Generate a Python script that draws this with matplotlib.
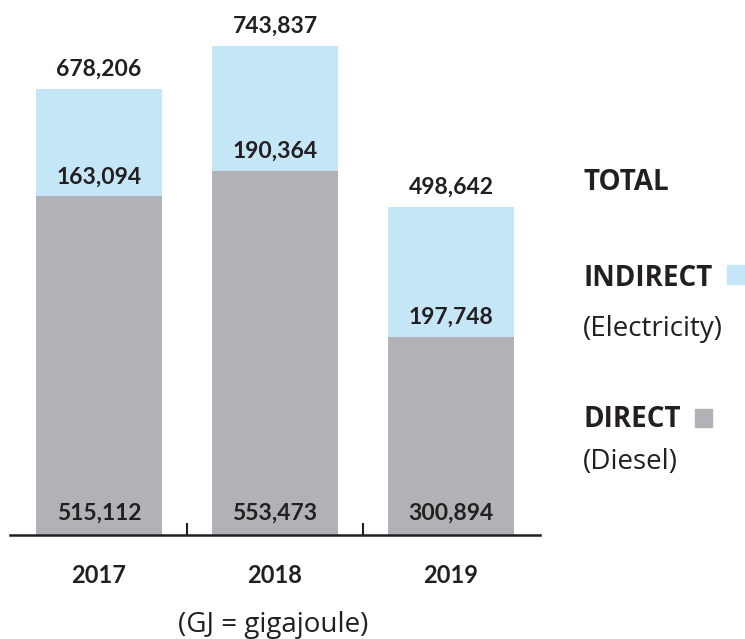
import matplotlib
matplotlib.use("Agg")
import matplotlib.pyplot as plt
from matplotlib.patches import Rectangle

years = ["2017", "2018", "2019"]
direct = [515112, 553473, 300894]
indirect = [163094, 190364, 197748]
totals = [678206, 743837, 498642]

grey = "#B1B2B6"
blue = "#C5E6F6"
ink = "#231F20"

fig = plt.figure(figsize=(7.45, 6.39), dpi=100)
ax = fig.add_axes([10 / 745, 104 / 639, 530 / 745, 535 / 639])

x = list(range(len(years)))
ax.bar(x, direct, width=0.72, color=grey)
ax.bar(x, indirect, bottom=direct, width=0.72, color=blue)

ax.set_xlim(-0.506, 2.506)
ax.set_ylim(0, 814000)
for s in ["top", "right", "left"]:
    ax.spines[s].set_visible(False)
ax.spines["bottom"].set_linewidth(1.8)
ax.spines["bottom"].set_color(ink)
ax.set_yticks([])
ax.set_xticks([0.5, 1.5])
ax.set_xticklabels([])
ax.tick_params(axis="x", direction="in", length=9, width=1.5, color=ink)

num_font = dict(family="Lato", fontweight="bold", fontsize=16.5, color=ink,
                ha="center", va="baseline")
for i in x:
    ax.text(i, totals[i] + 20000, f"{totals[i]:,}", **num_font)
    ax.text(i, direct[i] + 20000, f"{indirect[i]:,}", **num_font)
    ax.text(i, 23000, f"{direct[i]:,}", **num_font)
    fig.text((99 + 176 * i) / 745, 1 - 583 / 639, years[i], family="Lato",
             fontweight="bold", fontsize=17, color=ink, ha="center", va="baseline")

fig.text(273 / 745, 1 - 632 / 639, "(GJ = gigajoule)", family="Open Sans",
         fontsize=20, color=ink, ha="center", va="baseline")

leg = dict(family="Open Sans", fontsize=20, color=ink, ha="left", va="baseline")
fig.text(583 / 745, 1 - 190 / 639, "TOTAL", fontweight="bold", **leg)
fig.text(583 / 745, 1 - 286 / 639, "INDIRECT", fontweight="bold", **leg)
fig.text(583 / 745, 1 - 336 / 639, "(Electricity)", **leg)
fig.text(583 / 745, 1 - 427 / 639, "DIRECT", fontweight="bold", **leg)
fig.text(583 / 745, 1 - 469 / 639, "(Diesel)", **leg)
fig.patches.append(Rectangle((727 / 745, 1 - 284 / 639), 18 / 745, 19 / 639,
                             transform=fig.transFigure, color=blue))
fig.patches.append(Rectangle((695 / 745, 1 - 427 / 639), 17 / 745, 18 / 639,
                             transform=fig.transFigure, color=grey))

fig.savefig("out.png", dpi=100)
